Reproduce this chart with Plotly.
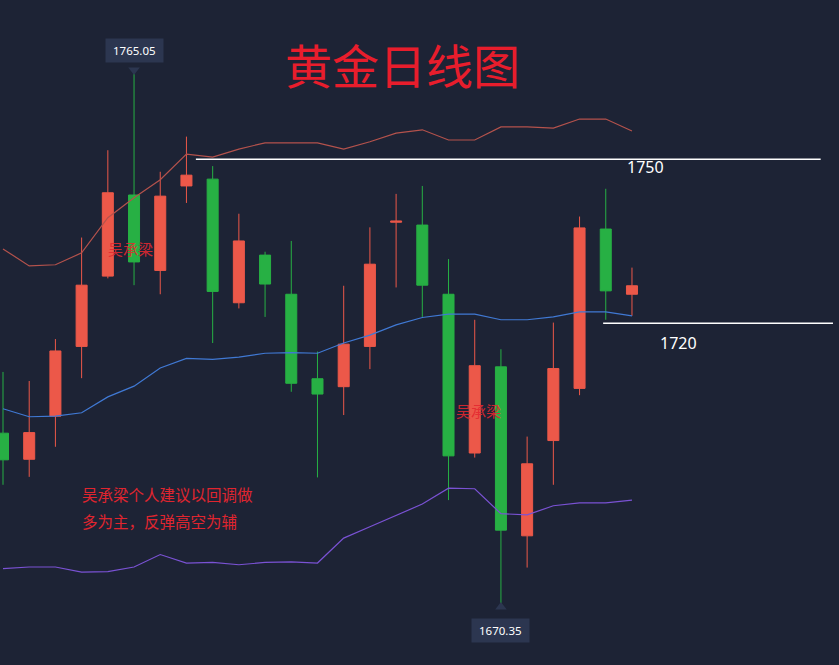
import plotly.graph_objects as go

# ---- data (prices) ----
day = list(range(25))
open_ = [1701.0, 1696.4, 1704.0, 1716.3, 1728.7, 1743.0, 1729.7, 1744.6, 1745.8, 1724.0,
         1732.4, 1725.5, 1710.6, 1709.2, 1716.3, 1738.2, 1737.7, 1725.5, 1697.5, 1712.7,
         1682.9, 1699.7, 1708.9, 1737.0, 1725.5]
high = [1711.8, 1710.2, 1717.6, 1735.5, 1750.9, 1765.05, 1747.1, 1753.3, 1748.1, 1739.7,
        1733.0, 1734.9, 1715.4, 1727.0, 1737.3, 1743.2, 1744.6, 1731.7, 1721.0, 1715.8,
        1700.4, 1720.5, 1739.2, 1744.1, 1730.2]
low = [1691.9, 1693.3, 1698.6, 1710.7, 1728.3, 1727.1, 1725.5, 1741.6, 1716.9, 1723.0,
       1721.5, 1708.3, 1693.2, 1704.2, 1712.3, 1726.7, 1721.5, 1689.2, 1696.7, 1670.35,
       1677.3, 1691.9, 1707.7, 1721.0, 1721.7]
close = [1696.3, 1701.1, 1715.5, 1727.1, 1743.4, 1731.2, 1742.8, 1746.5, 1726.0, 1734.9,
         1727.3, 1709.8, 1707.9, 1716.7, 1730.8, 1738.4, 1727.1, 1697.0, 1712.9, 1683.9,
         1695.6, 1712.4, 1737.2, 1726.1, 1727.0]

boll_upper = [1733.5, 1730.5, 1730.7, 1732.8, 1739.0, 1742.5, 1745.7, 1750.2, 1749.7, 1751.1,
              1752.2, 1752.2, 1752.2, 1751.1, 1752.4, 1753.9, 1754.5, 1752.7, 1752.7, 1755.0,
              1755.0, 1754.8, 1756.4, 1756.4, 1754.3]
boll_mid = [1705.3, 1703.9, 1704.0, 1704.6, 1707.4, 1709.3, 1712.5, 1714.2, 1714.0, 1714.4,
            1715.1, 1715.2, 1715.1, 1716.9, 1718.3, 1720.1, 1721.4, 1722.0, 1722.0, 1721.0,
            1721.0, 1721.5, 1722.4, 1722.4, 1721.7]
boll_lower = [1677.1, 1677.4, 1677.4, 1676.5, 1676.6, 1677.4, 1679.6, 1678.1, 1678.2, 1677.8,
              1678.2, 1678.3, 1678.1, 1682.5, 1684.5, 1686.5, 1688.5, 1691.3, 1691.2, 1686.8,
              1686.6, 1688.2, 1688.7, 1688.7, 1689.2]

level_values = [1749.3, 1720.4]
level_labels = ["1750", "1720"]
level_start = [7.36, 22.9]
level_end = [31.2, 31.67]

title_text = "黄金日线图"
watermark = "吴承梁"
comment_lines = ["吴承梁个人建议以回调做", "多为主，反弹高空为辅"]

BG = "#1d2335"
RED = "#ec5849"
GREEN = "#27b044"

fig = go.Figure()

fig.add_trace(go.Scatter(x=day, y=boll_upper, mode="lines",
                         line=dict(color="#b4524c", width=1.2), hoverinfo="skip"))
fig.add_trace(go.Scatter(x=day, y=boll_mid, mode="lines",
                         line=dict(color="#4079d4", width=1.2), hoverinfo="skip"))
fig.add_trace(go.Scatter(x=day, y=boll_lower, mode="lines",
                         line=dict(color="#7a52d4", width=1.2), hoverinfo="skip"))

fig.add_trace(go.Candlestick(
    x=day, open=open_, high=high, low=low, close=close,
    increasing=dict(line=dict(color=RED, width=1), fillcolor=RED),
    decreasing=dict(line=dict(color=GREEN, width=1), fillcolor=GREEN),
    whiskerwidth=0,
))

for lv, x0, x1 in zip(level_values, level_start, level_end):
    fig.add_shape(type="line", x0=x0, x1=x1, y0=lv, y1=lv, xref="x", yref="y",
                  line=dict(color="#ffffff", width=1.5))

label_font = dict(family="Noto Sans, Open Sans, sans-serif", size=16, color="#ffffff")
fig.add_annotation(x=23.73, y=1747.9, text=level_labels[0], showarrow=False,
                   xanchor="left", yanchor="middle", font=label_font)
fig.add_annotation(x=24.99, y=1716.9, text=level_labels[1], showarrow=False,
                   xanchor="left", yanchor="middle", font=label_font)

# high / low markers
hi_i = high.index(max(high))
lo_i = low.index(min(low))
tag_font = dict(family="Noto Sans, sans-serif", size=11.5, color="#ffffff")
fig.add_annotation(x=day[hi_i], y=high[hi_i], text=f"&nbsp;{high[hi_i]:.2f}&nbsp;",
                   showarrow=True, ax=0, ay=-19, arrowhead=0, arrowwidth=1,
                   arrowcolor="rgba(0,0,0,0)",
                   bgcolor="#2c3650", borderpad=4, font=tag_font)
fig.add_annotation(x=day[lo_i], y=low[lo_i], text=f"&nbsp;{low[lo_i]:.2f}&nbsp;",
                   showarrow=True, ax=0, ay=24, arrowhead=0, arrowwidth=1,
                   arrowcolor="rgba(0,0,0,0)",
                   bgcolor="#2c3650", borderpad=4, font=tag_font)
# small pointer triangles
fig.add_trace(go.Scatter(x=[day[hi_i]], y=[high[hi_i]], mode="markers",
                         marker=dict(symbol="triangle-down", size=10, color="#2c3650"),
                         hoverinfo="skip"))
fig.add_trace(go.Scatter(x=[day[lo_i]], y=[low[lo_i]], mode="markers",
                         marker=dict(symbol="triangle-up", size=10, color="#2c3650"),
                         hoverinfo="skip"))

cjk = "Noto Sans CJK SC, sans-serif"
fig.add_annotation(x=0.480, y=0.9038, xref="paper", yref="paper", text=title_text,
                   xanchor="center", yanchor="middle",
                   showarrow=False, font=dict(family=cjk, size=47, color="#e81d2c"))
fig.add_annotation(x=4.85, y=1733.5, text=watermark, showarrow=False,
                   font=dict(family=cjk, size=15, color="rgba(228,40,48,0.9)"))
fig.add_annotation(x=18.14, y=1705.0, text=watermark, showarrow=False,
                   font=dict(family=cjk, size=15, color="rgba(228,40,48,0.9)"))
fig.add_annotation(x=2.94, y=1690.2, text=comment_lines[0], showarrow=False,
                   xanchor="left", font=dict(family=cjk, size=15.5, color="#e0252f"))
fig.add_annotation(x=2.94, y=1685.5, text=comment_lines[1], showarrow=False,
                   xanchor="left", font=dict(family=cjk, size=15.5, color="#e0252f"))

fig.update_layout(
    width=839, height=665,
    margin=dict(l=0, r=0, t=0, b=0),
    paper_bgcolor=BG, plot_bgcolor=BG,
    showlegend=False,
    boxgap=0.4,
    xaxis=dict(range=[-0.1145, 31.9], visible=False, rangeslider=dict(visible=False),
               showgrid=False, zeroline=False),
    yaxis=dict(range=[1660.12, 1777.39], visible=False, showgrid=False, zeroline=False),
)

fig.write_html("out.html", config={"displayModeBar": False},
               post_script="document.body.style.margin='0';document.body.style.background='#1d2335';")
